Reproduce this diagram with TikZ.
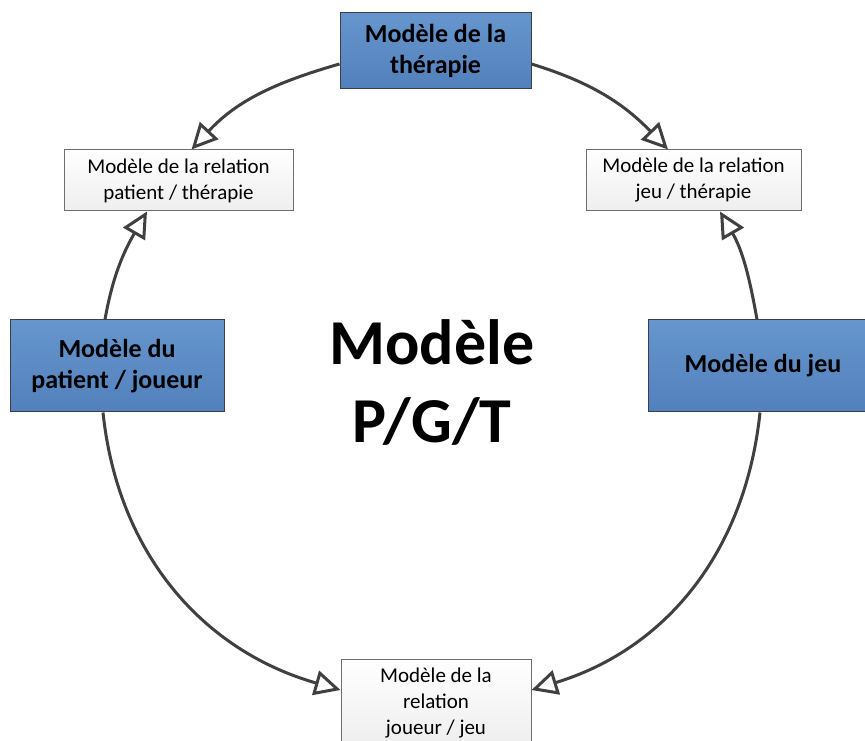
\documentclass[tikz,border=0pt]{standalone}
\usepackage{fontspec}
\setmainfont{Carlito}
\usetikzlibrary{arrows.meta}
\definecolor{blueT}{RGB}{102,150,205}
\definecolor{blueB}{RGB}{82,128,188}
\definecolor{blueBorder}{RGB}{60,64,70}
\definecolor{relT}{RGB}{255,255,255}
\definecolor{relB}{RGB}{238,238,238}
\definecolor{relBorder}{RGB}{110,110,110}
\definecolor{lineC}{RGB}{64,64,64}
\tikzset{
  bluebox/.style={draw=blueBorder, line width=1pt, top color=blueT, bottom color=blueB,
    align=center, inner sep=0pt, font=\fontsize{26}{31}\selectfont\bfseries},
  relbox/.style={draw=relBorder, line width=1pt, top color=relT, bottom color=relB,
    align=center, inner sep=0pt, font=\fontsize{21}{26}\selectfont},
  conn/.style={draw=lineC, line width=3pt,
    -{Triangle[open, length=26pt, width=25pt, line width=3pt]}},
}
\begin{document}
\begin{tikzpicture}[x=1pt,y=1pt]
\clip (0,0) rectangle (865,740);
\fill[white] (0,0) rectangle (865,740);
% nodes
\node[bluebox, minimum width=191pt, minimum height=76pt] (top) at (435.5,689) {Modèle de la\\thérapie};
\node[relbox, minimum width=229pt, minimum height=61pt] (lrel) at (178.5,559.5) {Modèle de la relation\\patient / thérapie};
\node[relbox, minimum width=215pt, minimum height=61pt] (rrel) at (693.5,559.5) {Modèle de la relation\\jeu / thérapie};
\node[bluebox, minimum width=214pt, minimum height=92pt] (lblue) at (117,374) {Modèle du\\patient / joueur};
\node[bluebox, minimum width=230pt, minimum height=92pt] (rblue) at (763,374) {Modèle du jeu};
\node[relbox, minimum width=190pt, minimum height=86pt, text height=68pt] (bot) at (436,38) {Modèle de la\\relation\\joueur / jeu};
\node[align=center, font=\fontsize{64}{78}\selectfont\bfseries] (title) at (432,358) {Modèle\\P/G/T};
% connectors
\draw[conn] ([yshift=-13pt]top.west) to[out=196, in=47] ([xshift=13pt]lrel.north);
\draw[conn] ([yshift=-13pt]top.east) to[out=-17, in=134] ([xshift=-25.5pt]rrel.north);
\draw[conn] ([xshift=-12pt]lblue.north) to[out=80, in=240] ([xshift=-31.5pt]lrel.south);
\draw[conn] ([xshift=-6pt]rblue.north) to[out=100, in=300] ([xshift=26.5pt]rrel.south);
\draw[conn] ([xshift=-14pt]lblue.south) to[out=276, in=164] ([yshift=12pt]bot.west);
\draw[conn] ([xshift=-3pt]rblue.south) to[out=264, in=17] ([yshift=12pt]bot.east);
\end{tikzpicture}
\end{document}
